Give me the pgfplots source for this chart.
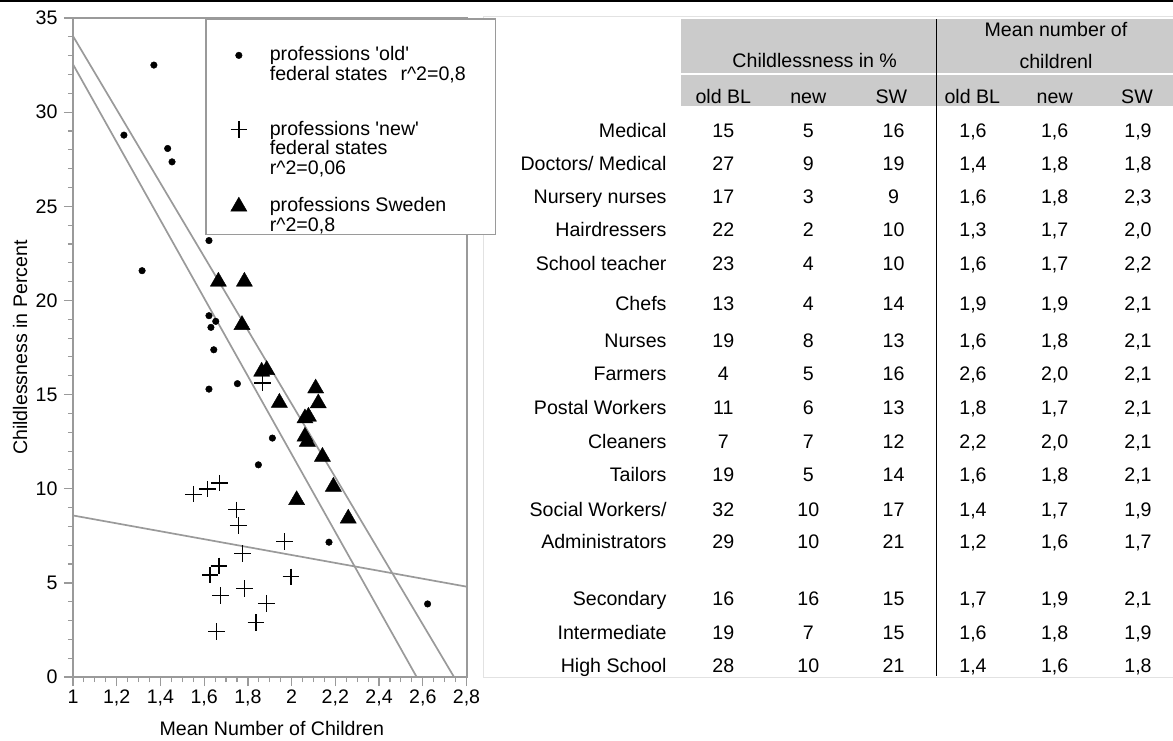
\documentclass[border=0pt]{standalone}
\usepackage{fontspec}
\setmainfont{Liberation Sans}
\usepackage{pgfplots}
\pgfplotsset{compat=1.18}
\definecolor{axisgray}{HTML}{9A9A9A}
\definecolor{bandgray}{HTML}{CBCBCB}
\definecolor{framegray}{HTML}{E2E2E2}
\newcommand{\tf}{\fontsize{19.6}{22}\selectfont}
\newcommand{\lf}{\fontsize{19.6}{19}\selectfont}
\pgfplotsset{legend image code/.code={\draw[#1] plot coordinates {(0pt,5.5pt)};}}
\newcommand{\trow}[8]{%
  \node[anchor=base east] at (666.7,#1) {#2};
  \node[anchor=base] at (723.3,#1) {#3};
  \node[anchor=base] at (808.3,#1) {#4};
  \node[anchor=base] at (893.5,#1) {#5};
  \node[anchor=base] at (973,#1) {#6};
  \node[anchor=base] at (1054.7,#1) {#7};
  \node[anchor=base] at (1138,#1) {#8};}
\begin{document}
\begin{tikzpicture}
\useasboundingbox (0pt,0pt) rectangle (1173pt,-740pt);
\begin{scope}[x=1pt,y=-1pt,every node/.style={inner sep=0pt,font=\tf}]
  \draw[framegray, line width=1pt] (483,16) -- (1173,16);
  \draw[framegray, line width=1pt] (483,16) -- (483,677) -- (1173,677);
  \fill[bandgray] (681,19) rectangle (1173,72.7);
  \fill[bandgray] (681,75.3) rectangle (1173,106);
  \draw[black, line width=1.5pt] (936.3,19) -- (936.3,676);
  \draw[black, line width=1.5pt] (0,0.75) -- (1173,0.75);
  \node[anchor=base] at (814.7,67.7) {Childlessness in \%};
  \node[anchor=base] at (1056,36.7) {Mean number of};
  \node[anchor=base] at (1056,68.3) {childrenl};
  \node[anchor=base] at (723.3,103.3) {old BL};
  \node[anchor=base] at (808.3,103.3) {new};
  \node[anchor=base] at (891.3,103.3) {SW};
  \node[anchor=base] at (972.3,103.3) {old BL};
  \node[anchor=base] at (1054.7,103.3) {new};
  \node[anchor=base] at (1137,103.3) {SW};
  \trow{137.5}{Medical}{15}{5}{16}{1,6}{1,6}{1,9}
  \trow{170}{Doctors/ Medical}{27}{9}{19}{1,4}{1,8}{1,8}
  \trow{203.5}{Nursery nurses}{17}{3}{9}{1,6}{1,8}{2,3}
  \trow{236.5}{Hairdressers}{22}{2}{10}{1,3}{1,7}{2,0}
  \trow{270}{School teacher}{23}{4}{10}{1,6}{1,7}{2,2}
  \trow{310.5}{Chefs}{13}{4}{14}{1,9}{1,9}{2,1}
  \trow{347}{Nurses}{19}{8}{13}{1,6}{1,8}{2,1}
  \trow{380.5}{Farmers}{4}{5}{16}{2,6}{2,0}{2,1}
  \trow{414.5}{Postal Workers}{11}{6}{13}{1,8}{1,7}{2,1}
  \trow{448}{Cleaners}{7}{7}{12}{2,2}{2,0}{2,1}
  \trow{481.5}{Tailors}{19}{5}{14}{1,6}{1,8}{2,1}
  \trow{516}{Social Workers/}{32}{10}{17}{1,4}{1,7}{1,9}
  \trow{548.5}{Administrators}{29}{10}{21}{1,2}{1,6}{1,7}
  \trow{605}{Secondary}{16}{16}{15}{1,7}{1,9}{2,1}
  \trow{639}{Intermediate}{19}{7}{15}{1,6}{1,8}{1,9}
  \trow{672}{High School}{28}{10}{21}{1,4}{1,6}{1,8}
\end{scope}
\begin{axis}[
  at={(73pt,-677pt)}, anchor=south west,
  scale only axis, width=393.5pt, height=659pt,
  xmin=1, xmax=2.8, ymin=0, ymax=35,
  xtick={1,1.2,1.4,1.6,1.8,2,2.2,2.4,2.6,2.8},
  ytick={0,5,10,15,20,25,30,35},
  minor x tick num=3, minor y tick num=4,
  tick align=outside, tick pos=left,
  major tick length=9pt, minor tick length=5pt,
  axis line style={draw=axisgray, line width=2pt},
  major tick style={draw=axisgray, line width=1.3pt},
  minor tick style={draw=axisgray, line width=1.1pt},
  tick label style={font=\tf},
  yticklabel style={xshift=-3pt},
  xticklabel style={/pgf/number format/fixed,/pgf/number format/precision=1},
  /pgf/number format/assume math mode=true,
  /pgf/number format/use comma,
  xlabel={Mean Number of Children},
  ylabel={Childlessness in Percent},
  every axis x label/.style={at={(rel axis cs:0.5,0)}, anchor=center, yshift=-51pt, xshift=2pt, font=\tf},
  every axis y label/.style={at={(rel axis cs:0,0.5)}, anchor=center, rotate=90, yshift=53pt, font=\tf},
  legend style={at={(0.33545,1)}, anchor=north west, draw=axisgray, line width=1.7pt, fill=white,
    inner xsep=24.7pt, inner ysep=0pt, row sep=0pt, column sep=20.7pt, font=\lf,
    cells={anchor=base west, inner sep=0pt}},
]
\addlegendimage{only marks, mark=*, mark size=3.3pt, black, line width=0.4pt}
\addlegendentry{\rule{0pt}{40pt}\makebox[199pt][l]{professions \textquotesingle old\textquotesingle}\strut}
\addlegendimage{empty legend}
\addlegendentry{federal states\hspace{13pt}r\textasciicircum 2=0,8\strut}
\addlegendimage{empty legend}
\addlegendentry{\rule{0pt}{29.5pt}}
\addlegendimage{only marks, mark=+, mark size=8.3pt, black, line width=1.3pt}
\addlegendentry{professions \textquotesingle new\textquotesingle\strut}
\addlegendimage{empty legend}
\addlegendentry{federal states\strut}
\addlegendimage{empty legend}
\addlegendentry{r\textasciicircum 2=0,06\strut}
\addlegendimage{empty legend}
\addlegendentry{\rule{0pt}{12.6pt}}
\addlegendimage{only marks, mark=triangle*, mark size=9.3pt, black, line width=0.4pt}
\addlegendentry{professions Sweden\strut}
\addlegendimage{empty legend}
\addlegendentry{r\textasciicircum 2=0,8\strut}
\addplot[axisgray, line width=1.7pt, forget plot] coordinates {(1,34.04) (2.743,0)};
\addplot[axisgray, line width=1.7pt, forget plot] coordinates {(1,32.54) (2.572,0)};
\addplot[axisgray, line width=1.7pt, forget plot] coordinates {(1,8.58) (2.8,4.80)};
\addplot[only marks, mark=*, mark size=3.3pt, black, line width=0.4pt, forget plot] coordinates {
(1.370,32.5) (1.233,28.78) (1.433,28.07) (1.453,27.36) (1.316,21.58) (1.622,23.18)
(1.622,19.19) (1.653,18.89) (1.631,18.57) (1.644,17.38) (1.622,15.29) (1.752,15.58)
(1.848,11.27) (1.912,12.69) (2.171,7.16) (2.622,3.88)};
\addplot[only marks, mark=+, mark size=8.3pt, black, line width=1.3pt, forget plot] coordinates {
(1.550,9.71) (1.614,9.98) (1.669,10.30) (1.749,8.88) (1.756,8.04) (1.776,6.57)
(1.668,5.90) (1.627,5.42) (1.785,4.71) (1.676,4.32) (1.884,3.92) (1.837,2.89)
(1.657,2.41) (1.967,7.19) (1.997,5.32) (1.866,15.61)};
\addplot[only marks, mark=triangle*, mark size=9.3pt, black, line width=0.4pt, forget plot] coordinates {
(1.665,21.0) (1.784,21.0) (1.773,18.7) (1.863,16.22) (1.886,16.31) (1.944,14.57)
(2.110,15.33) (2.122,14.54) (2.061,13.74) (2.077,13.83) (2.061,12.77) (2.072,12.5)
(2.141,11.7) (2.191,10.11) (2.023,9.4) (2.259,8.42)};
\end{axis}
\end{tikzpicture}
\end{document}
